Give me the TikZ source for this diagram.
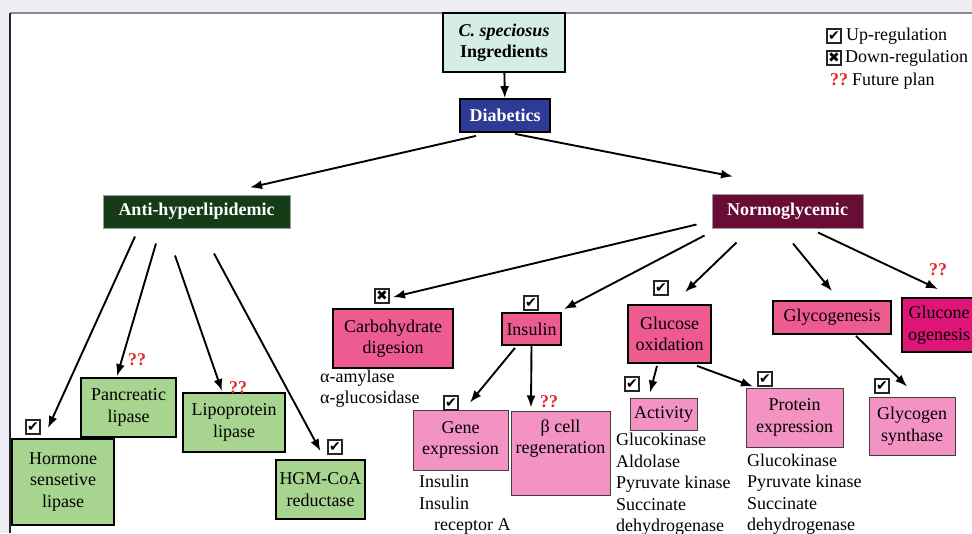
\documentclass[tikz,border=0pt]{standalone}
\usepackage{fontspec}
\setmainfont{Liberation Serif}
\newfontfamily\symfont{DejaVu Sans}
\usetikzlibrary{arrows.meta}

\definecolor{framebg}{HTML}{EEEDF4}
\definecolor{ingfill}{HTML}{D4EEE6}
\definecolor{diabblue}{HTML}{2D3A96}
\definecolor{antigreen}{HTML}{163C17}
\definecolor{normored}{HTML}{6A0D36}
\definecolor{leafgreen}{HTML}{A7D58F}
\definecolor{midpink}{HTML}{EE5B90}
\definecolor{lightpink}{HTML}{F293C3}
\definecolor{hotpink}{HTML}{E0157A}
\definecolor{qred}{HTML}{E8262B}

\tikzset{
  box/.style={draw=black, line width=1.8pt, align=center, inner sep=2pt},
  hbox/.style={box, text=white, font=\fontsize{18}{21.5}\selectfont\bfseries},
  gbox/.style={box, fill=leafgreen},
  pbox/.style={box, fill=midpink},
  lbox/.style={box, fill=lightpink, draw=black!75, line width=1pt},
  arr/.style={-{Latex[length=12pt,width=9pt]}, line width=1.9pt},
  chk/.style={draw=black!85, line width=1.2pt, minimum size=14pt, inner sep=0pt,
    font=\symfont\fontsize{14}{14}\selectfont},
  qq/.style={text=qred, font=\fontsize{18}{18}\selectfont\bfseries, inner sep=0pt},
  lst/.style={anchor=base west, inner sep=0pt}
}

\begin{document}
\begin{tikzpicture}[x=1pt, y=-1pt, font=\fontsize{18}{21.5}\selectfont]
\clip (0,0) rectangle (972,533);
\fill[framebg] (0,0) rectangle (972,533);
\fill[white] (10,13) rectangle (972,533);
\draw[black!45, line width=1.5pt] (10,13) -- (972,13);
\draw[black!85, line width=1.2pt] (10,13) -- (10,533);

% top of the tree
\node[box, fill=ingfill, minimum width=122pt, minimum height=59pt, font=\fontsize{18}{21.5}\selectfont\bfseries] (ing) at (504,42.5) {\textit{C. speciosus}\\Ingredients};
\node[hbox, fill=diabblue, minimum width=90pt, minimum height=33pt] (diab) at (505,115.5) {Diabetics};
\node[hbox, fill=antigreen, draw=black!40, line width=1pt, minimum width=187pt, minimum height=33pt] (anti) at (196.5,211.5) {Anti-hyperlipidemic};
\node[hbox, fill=normored, draw=black!40, line width=1pt, minimum width=151pt, minimum height=34pt] (normo) at (787.5,211) {Normoglycemic};

% lipid branch
\node[gbox, minimum width=102pt, minimum height=86pt] (hsl) at (63,482) {Hormone\\sensetive\\lipase};
\node[gbox, minimum width=95pt, minimum height=59pt] (panc) at (128.5,407.5) {Pancreatic\\lipase};
\node[gbox, minimum width=102pt, minimum height=59pt] (lipo) at (234,422.5) {Lipoprotein\\lipase};
\node[gbox, minimum width=89pt, minimum height=59pt] (hgm) at (320.5,489.5) {HGM-CoA\\reductase};

% glucose branch
\node[pbox, minimum width=120pt, minimum height=59pt] (carb) at (393,338.5) {Carbohydrate\\digesion};
\node[pbox, minimum width=59pt, minimum height=32pt] (ins) at (531.5,329) {Insulin};
\node[pbox, minimum width=83pt, minimum height=58pt] (gox) at (669.5,334) {Glucose\\oxidation};
\node[pbox, minimum width=118pt, minimum height=33pt] (glyc) at (832,317.5) {Glycogenesis};
\node[box, fill=hotpink, minimum width=74pt, minimum height=54pt] (gneo) at (939,325) {Glucone\\ogenesis};
\node[lbox, minimum width=95pt, minimum height=60pt] (gene) at (460.5,440) {Gene\\expression};
\node[lbox, minimum width=99pt, minimum height=84pt] (beta) at (560.5,453) {};
\node[anchor=north, inner sep=0pt, align=center] (betatxt) at ([yshift=-9pt]beta.north) {β cell\\regeneration};
\node[lbox, minimum width=67pt, minimum height=32pt] (act) at (663.5,414) {Activity};
\node[lbox, minimum width=97pt, minimum height=59pt] (prot) at (794.5,417.5) {Protein\\expression};
\node[lbox, minimum width=86pt, minimum height=58pt] (gsyn) at (912,426) {Glycogen\\synthase};

% enzyme lists
\foreach \t [count=\i] in {α-amylase, α-glucosidase}
  \node[lst] (amy\i) at (320,{360.5+21.5*\i}) {\t};
\foreach \x/\y/\t [count=\i] in {419/487.5/Insulin, 419/509/Insulin, 434/530.5/receptor A}
  \node[lst] (gen\i) at (\x,\y) {\t};
\foreach \t [count=\i] in {Glucokinase, Aldolase, Pyruvate kinase, Succinate, dehydrogenase}
  \node[lst] (act\i) at (616,{424+21.5*\i}) {\t};
\foreach \t [count=\i] in {Glucokinase, Pyruvate kinase, Succinate, dehydrogenase}
  \node[lst] (prot\i) at (747,{444.5+21.5*\i}) {\t};

% connectors
\draw[arr] (ing) -- (diab);
\draw[arr] ([shift={(-29,3)}]diab.south) -- ([shift={(53.5,-7)}]anti.north);
\draw[arr] ([shift={(10,1)}]diab.south) -- ([shift={(-54.5,-17)}]normo.north);
\draw[arr] ([shift={(-61.5,8)}]anti.south) -- ([shift={(-15,-10)}]hsl.north);
\draw[arr] ([shift={(-40.5,15)}]anti.south) -- ([shift={(-11.5,-1)}]panc.north);
\draw[arr] ([shift={(-21.5,27)}]anti.south) -- ([shift={(-12,-1)}]lipo.north);
\draw[arr] ([shift={(17.5,25)}]anti.south) -- ([shift={(0,-8)}]hgm.north);
\draw[arr] ([shift={(-15,-4)}]normo.south west) -- ([shift={(0,-11)}]carb.north);
\draw[arr] ([shift={(-7,7)}]normo.south west) -- ([shift={(2,-3)}]ins.north east);
\draw[arr] ([shift={(25,14)}]normo.south west) -- ([shift={(15.5,-12)}]gox.north);
\draw[arr] ([shift={(5.5,15)}]normo.south) -- ([shift={(0,-9)}]glyc.north);
\draw[arr] ([shift={(30.5,4)}]normo.south) -- ([shift={(-1,-8)}]gneo.north);
\draw[arr] ([shift={(-16.5,2)}]ins.south) -- ([shift={(9.5,-7)}]gene.north);
\draw[arr] (ins.south) -- ([shift={(-29.5,-3)}]beta.north);
\draw[arr] ([shift={(-12.5,2)}]gox.south) -- ([shift={(-13.5,-5)}]act.north);
\draw[arr] ([shift={(27.5,2)}]gox.south) -- ([shift={(-41.5,-1)}]prot.north);
\draw[arr] ([shift={(24,1)}]glyc.south) -- ([shift={(-5,-10)}]gsyn.north);

% regulation marks
\foreach \x/\y/\s [count=\i] in {33/427/✔, 335/447/✔, 382/296/✖, 531/303/✔, 661/288/✔, 451/403/✔, 632/384/✔, 765/379/✔, 882/386/✔}
  \node[chk] (m\i) at (\x,\y) {\s};
\foreach \x/\y [count=\i] in {137/360, 238/388, 549/402, 938/270}
  \node[qq] (q\i) at (\x,\y) {??};

% legend
\node[chk] (lg1) at (834,36) {✔};
\node[chk] (lg2) at (834,58) {✖};
\node[qq] (lg3) at (839,80) {??};
\node[anchor=west, inner sep=0pt] (lg1t) at (846,36) {Up-regulation};
\node[anchor=west, inner sep=0pt] (lg2t) at (845,58) {Down-regulation};
\node[anchor=west, inner sep=0pt] (lg3t) at (852,81) {Future plan};
\end{tikzpicture}
\end{document}
